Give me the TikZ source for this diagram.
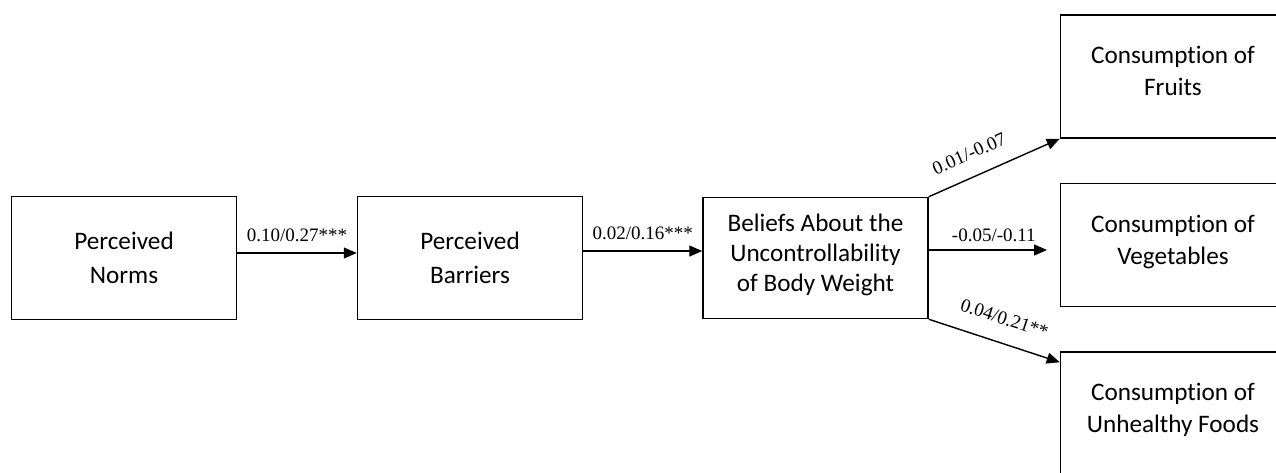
\documentclass[tikz,border=0pt]{standalone}
\usepackage{fontspec}
\setmainfont{Liberation Serif}
\newfontfamily\boxfont[Ligatures=NoCommon]{Carlito}
\usetikzlibrary{arrows.meta}
\tikzset{
  varbox/.style={draw=black, line width=0.75pt, rectangle, minimum width=112.5pt, minimum height=61.5pt,
    align=center, font=\boxfont\fontsize{12.6}{16}\selectfont, inner sep=0pt, text depth=5.5pt},
  path/.style={draw=black, line width=0.7pt, -{Triangle[length=6.5pt,width=5.5pt]}},
  coef/.style={font=\fontsize{9.5}{11}\selectfont, inner sep=1.5pt}
}
\begin{document}
\begin{tikzpicture}[x=0.5pt,y=-0.5pt]
\useasboundingbox (0,0) rectangle (1276,472);
\clip (0,0) rectangle (1276,472);
\fill[white] (0,0) rectangle (1276,472);
\node[varbox, font=\boxfont\fontsize{12.6}{16.8}\selectfont, text depth=0.5pt] (norms) at (124,258) {Perceived\\Norms};
\node[varbox, font=\boxfont\fontsize{12.6}{16.8}\selectfont, text depth=0.5pt] (barr) at (470,258) {Perceived\\Barriers};
\node[varbox, minimum height=60.5pt, font=\boxfont\fontsize{12.6}{15}\selectfont, text depth=5pt] (belief) at (815.5,258) {Beliefs About the\\Uncontrollability\\of Body Weight};
\node[varbox] (fruit) at (1173,76.5) {Consumption of\\Fruits};
\node[varbox] (veg) at (1173,245) {Consumption of\\Vegetables};
\node[varbox] (unh) at (1173,413.5) {Consumption of\\Unhealthy Foods};
\coordinate (vegend) at (1047,250);

\draw[path] ([yshift=2.5pt]norms.east) -- node[coef, above, pos=0.5, yshift=4pt] {0.10/0.27***} ([yshift=2.5pt]barr.west);
\draw[path] ([yshift=3.5pt]barr.east) -- node[coef, above, pos=0.5, yshift=4pt] {0.02/0.16***} ([yshift=3.5pt]belief.west);
\draw[path] (belief.north east) -- node[coef, above, sloped, pos=0.38, yshift=6.5pt] {0.01/-0.07} (fruit.south west);
\draw[path] (belief.east |- vegend) -- node[coef, above, pos=0.55, yshift=2.5pt] {-0.05/-0.11} (vegend);
\draw[path] (belief.south east) -- node[coef, above, sloped, pos=0.52, yshift=7pt] {0.04/0.21**} ([yshift=-5.5pt]unh.north west);
\end{tikzpicture}
\end{document}
